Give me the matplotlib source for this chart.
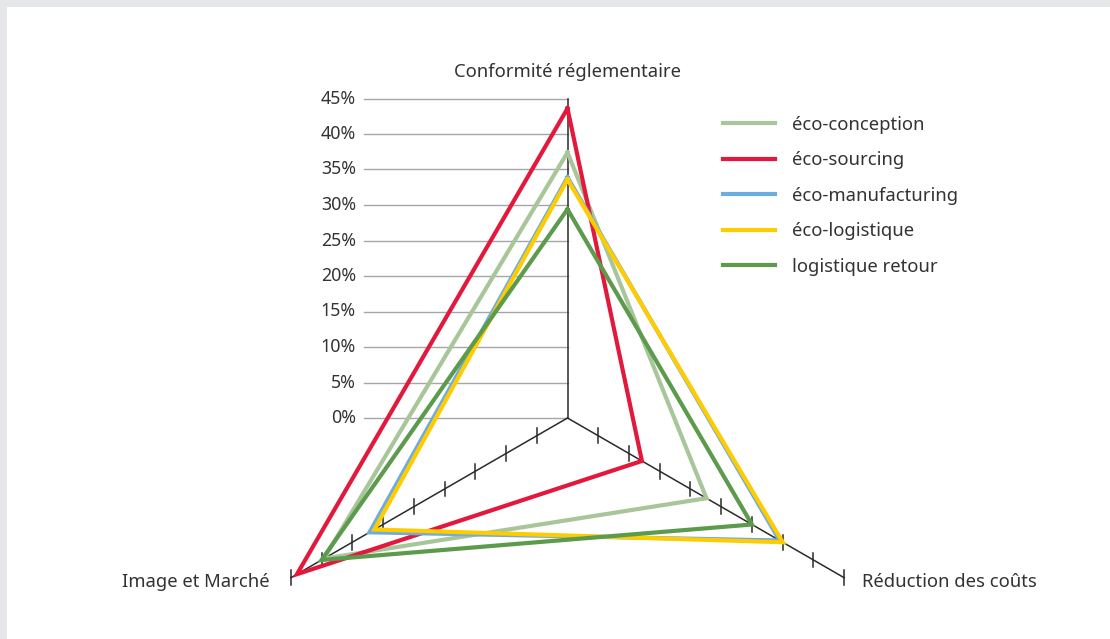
import matplotlib.pyplot as plt
from matplotlib.patches import Rectangle
import numpy as np

plt.rcParams['font.family'] = ['Noto Sans', 'DejaVu Sans']

# radar axes, clockwise from the top
axis_names = ['Conformité réglementaire', 'Réduction des coûts', 'Image et Marché']
axis_angles = np.deg2rad([90, -30, 210])

series = ['éco-conception', 'éco-sourcing', 'éco-manufacturing', 'éco-logistique', 'logistique retour']
conformite = [37.4, 43.6, 33.9, 33.6, 29.4]
reduction = [22.6, 12.1, 34.5, 35.0, 30.0]
image_marche = [39.6, 44.0, 32.2, 31.4, 40.0]
colors = ['#a8c69a', '#e2183c', '#6cace0', '#ffcc00', '#5c9a4c']

levels = np.arange(0, 50, 5)
rmax = 45

W, H = 1110, 639
px = 7.1            # pixels per percent
cx, cy = 567.5, 418  # centre of the web in pixels

fig = plt.figure(figsize=(W / 100, H / 100), dpi=100)
fig.patch.set_facecolor('#e6e7e9')
ax = fig.add_axes([0, 0, 1, 1])
ax.set_xlim(-cx / px, (W - cx) / px)
ax.set_ylim(-(H - cy) / px, cy / px)
ax.axis('off')
ax.add_patch(Rectangle((7 / W, 0), 1, (H - 7) / H, transform=fig.transFigure,
                       facecolor='white', edgecolor='none', zorder=0))

txt = '#333333'
fs = 13.3

# horizontal scale lines and percent labels
for lv in levels:
    ax.plot([-28.6, 0], [lv, lv], color='#a6a6a6', lw=1.0, zorder=1)
    ax.text(-29.8, lv, f'{lv}%', ha='right', va='center', fontsize=12.8, color=txt)

# spokes with tick marks
for k, a in enumerate(axis_angles):
    ax.plot([0, rmax * np.cos(a)], [0, rmax * np.sin(a)], color='#2a2a2a', lw=1.1, zorder=1)
    if k > 0:
        for lv in levels[1:]:
            tx, ty = lv * np.cos(a), lv * np.sin(a)
            ax.plot([tx, tx], [ty - 1.05, ty + 1.05], color='#2a2a2a', lw=1.1, zorder=1)

# series polygons
for name, c, r, i, col in zip(series, conformite, reduction, image_marche, colors):
    vals = np.array([c, r, i, c])
    ang = np.append(axis_angles, axis_angles[0])
    ax.plot(vals * np.cos(ang), vals * np.sin(ang), color=col, lw=3.0,
            solid_joinstyle='miter', label=name, zorder=3)

# axis titles
ax.text(0, (cy - 72) / px, axis_names[0], ha='center', va='center', fontsize=fs, color=txt)
ax.text((862 - cx) / px, -(582 - cy) / px, axis_names[1], ha='left', va='center', fontsize=fs, color=txt)
ax.text((270 - cx) / px, -(582 - cy) / px, axis_names[2], ha='right', va='center', fontsize=fs, color=txt)

leg = ax.legend(loc='upper left', bbox_to_anchor=(723 / W, 1 - 115.5 / H),
                bbox_transform=fig.transFigure, frameon=False, fontsize=fs,
                handlelength=2.8, handletextpad=0.95, labelspacing=0.95,
                borderpad=0, borderaxespad=0)
for t in leg.get_texts():
    t.set_color(txt)

fig.savefig('out.png', dpi=100, facecolor=fig.get_facecolor())
